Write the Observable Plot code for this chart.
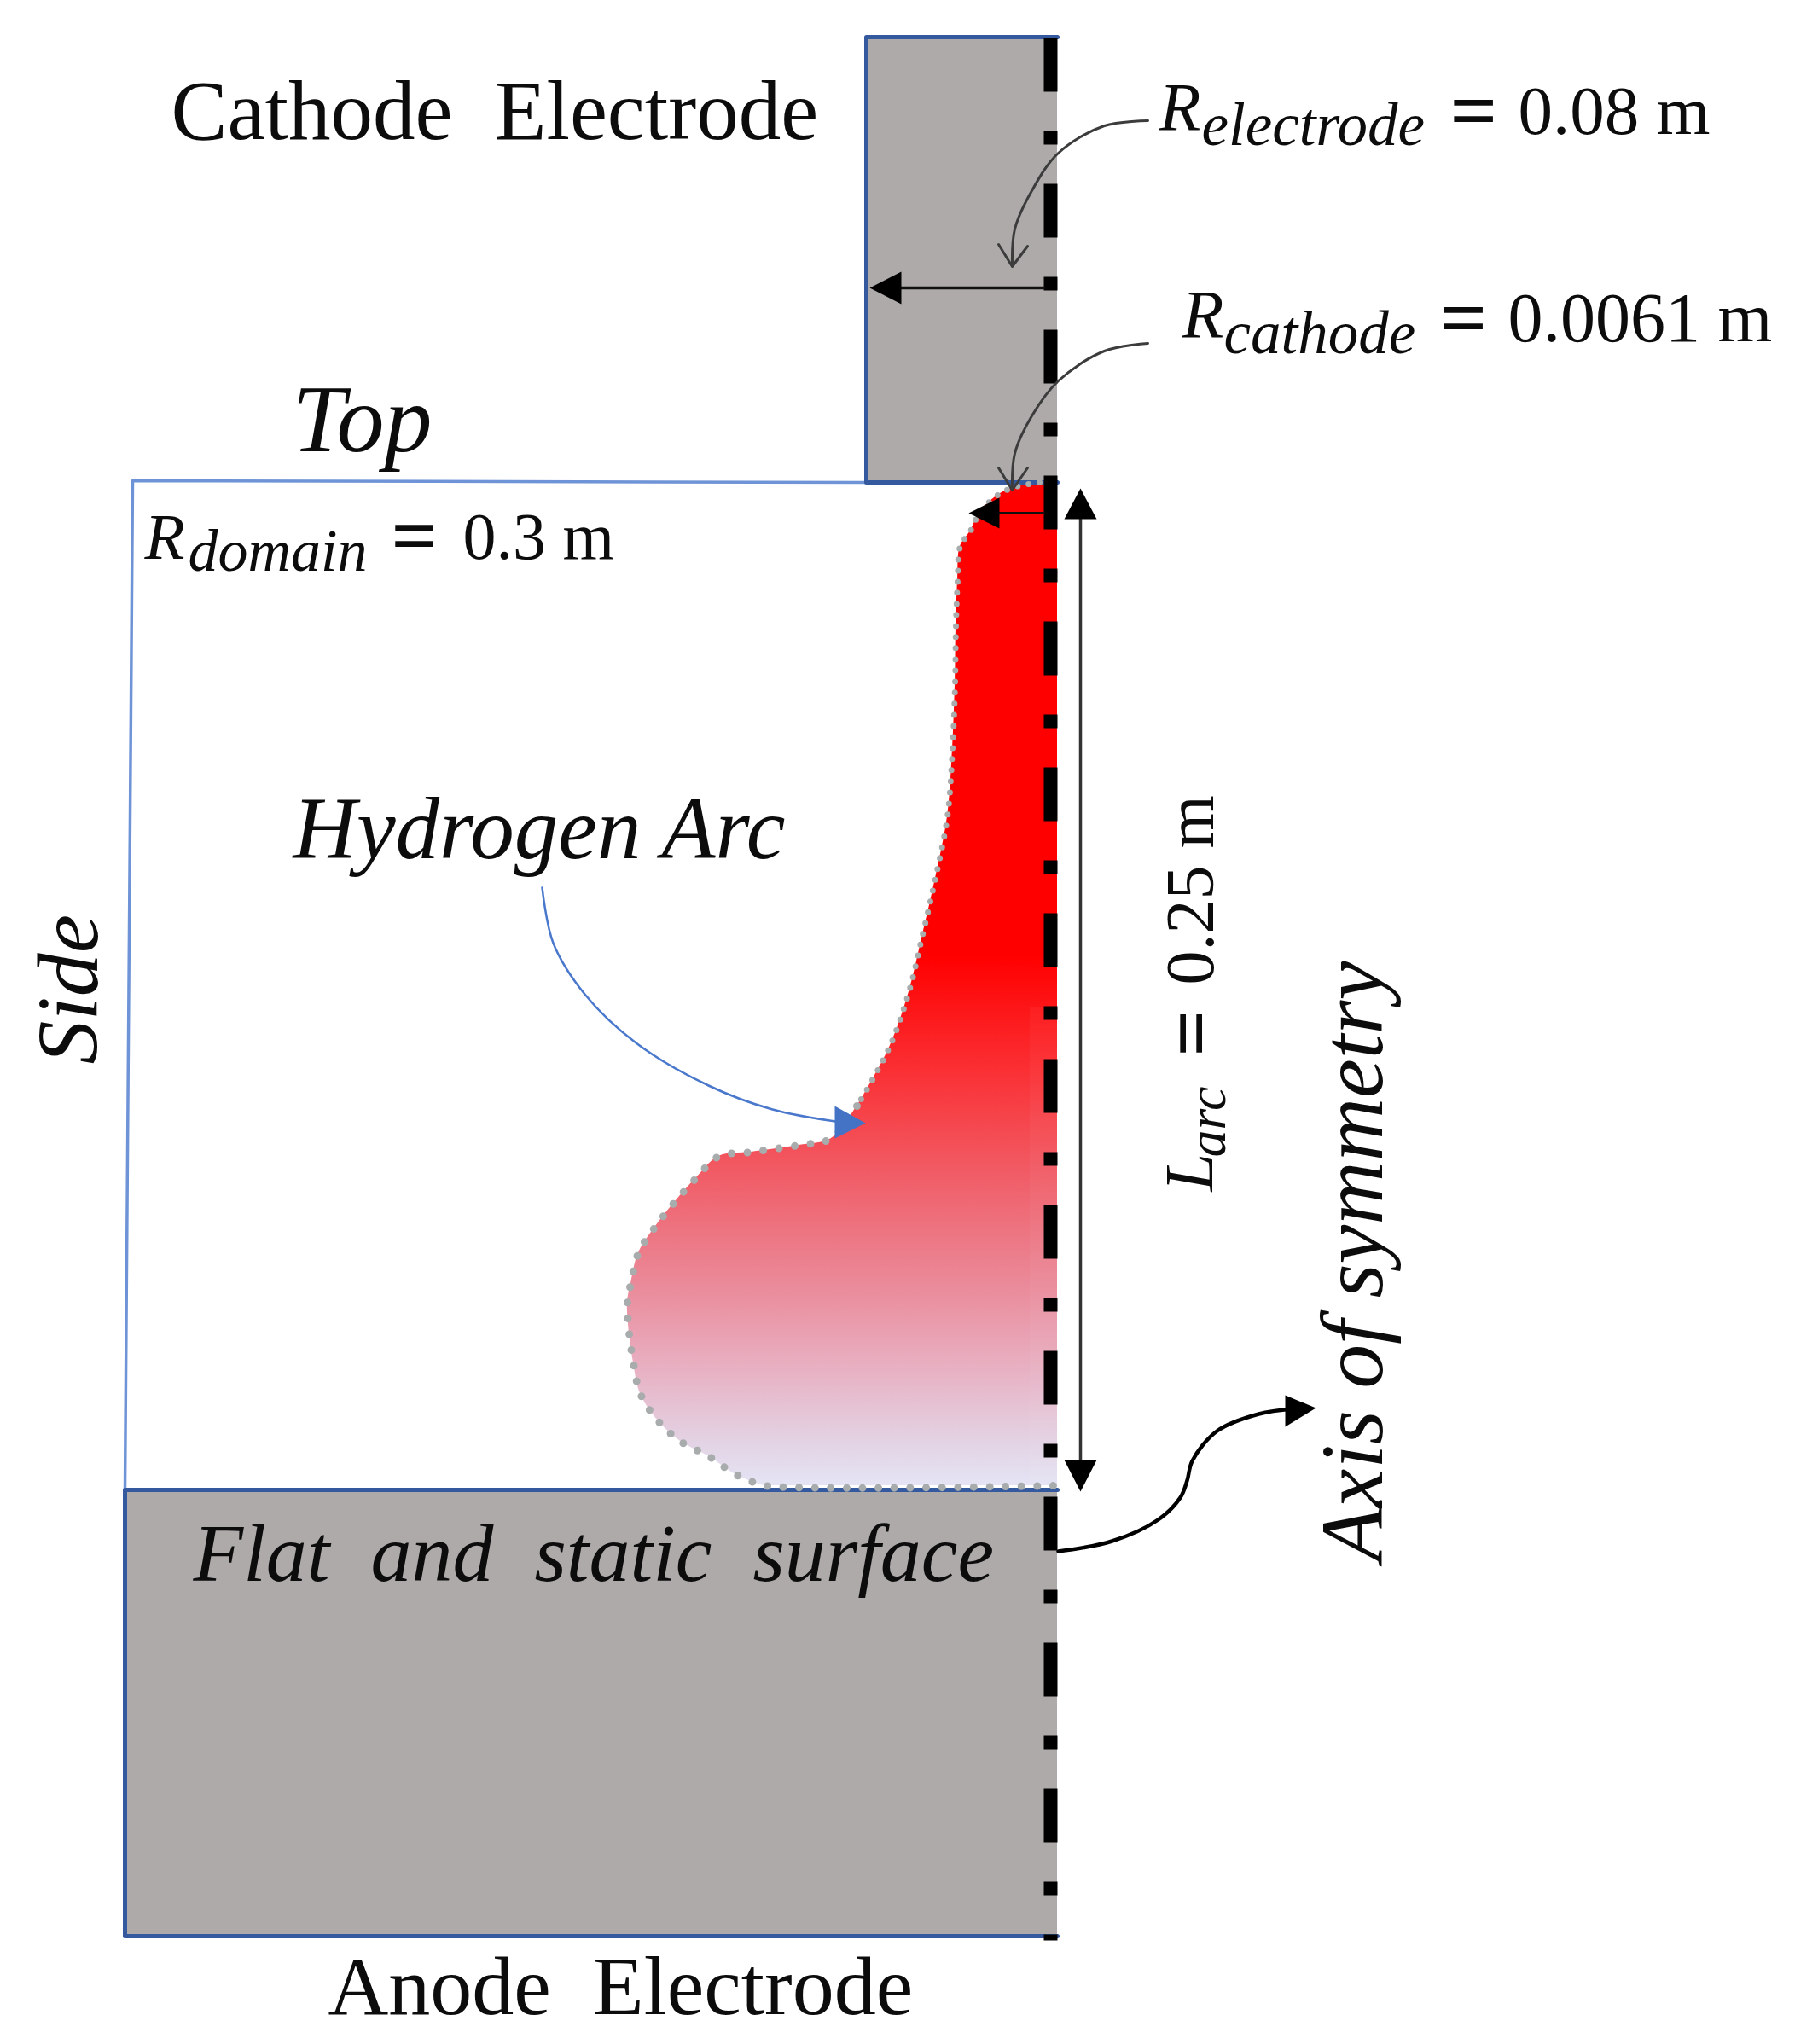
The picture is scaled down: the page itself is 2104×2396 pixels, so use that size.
<!DOCTYPE html>
<html>
<head>
<meta charset="utf-8">
<script src="https://cdn.jsdelivr.net/npm/d3@7"></script>
<script src="https://cdn.jsdelivr.net/npm/@observablehq/plot@0.6"></script>
<style>
html,body{margin:0;padding:0;background:#fff}
svg{display:block}
</style>
</head>
<body>
<div id="chart"></div>
<script>
// Diagram outline (horizontal, vertical position units)
const arcEdgeY = [565,571,580,600,622,640,680,734,801,877,957,1029,1095,1162,1225,1276,1296,1334,1342,1350,1355,1381,1408,1437,1468,1504,1526,1562,1597,1633,1664,1689,1707,1727,1736,1741];
const arcEdgeX = [1218,1187,1169,1148,1137,1125,1122,1120,1119,1116,1110,1096,1081,1065,1043,1016,1004,974,936,880,842,815,791,768,748,739,735,737,742,750,770,797,831,860,880,895];
const arcRightX = 1239;

const gradY = [565,1120,1245,1400,1512,1600,1691,1741];
const gradColor = ["#ff0000","#ff0000","#fb2c30","#ef6570","#ea8c9c","#e8afc1","#e3d3e4","#e4e4f5"];

const electrodeFill = "#aeaaa9";
const cathodeX = [1015,1239], cathodeY = [43,565];
const anodeX = [146,1239], anodeY = [1746,2269];
const domainX = [1015,155,146], domainY = [565,563,1746];
const cathodeEdgeX = [1239,1015,1015,1239], cathodeEdgeY = [43,43,565,565];
const anodeEdgeX = [1239,146,146,1239], anodeEdgeY = [1746,1746,2269,2269];
const axisX = [1231,1231], axisY = [44,2274];

const elecLeaderX = [1345,1294,1240,1209,1189,1186], elecLeaderY = [141,147,179,223,268,310];
const elecVeeX = [1170,1186,1204], elecVeeY = [286,312,288];
const cathLeaderX = [1345,1294,1240,1209,1189,1186], cathLeaderY = [402,411,446,487,531,572];
const cathVeeX = [1170,1186,1204], cathVeeY = [548,574,548];

const elecArrowX = [1223,1050], elecArrowY = [337,337];
const elecHeadX = [1019,1056,1056], elecHeadY = [337,318,356];
const cathArrowX = [1223,1165], cathArrowY = [601,601];
const cathHeadX = [1135,1171,1171], cathHeadY = [601,583,619];
const lenArrowX = [1266,1266], lenArrowY = [600,1720];
const lenTopHeadX = [1266,1247,1285], lenTopHeadY = [572,608,608];
const lenBotHeadX = [1266,1247,1285], lenBotHeadY = [1748,1711,1711];

const h2LeaderX = [635,648,685,745,830,905,985], h2LeaderY = [1040,1105,1165,1222,1272,1300,1315];
const h2HeadX = [1014,978,978], h2HeadY = [1316,1296,1334];

const symLeaderX = [1240,1303,1357,1383,1391,1397,1426,1475,1515], symLeaderY = [1818,1806,1781,1755,1735,1712,1677,1657,1651];
const symHeadX = [1542,1506,1506], symHeadY = [1650,1635,1672];

// Text labels
const labelText = ["Cathode\u00A0\u00A0Electrode","Anode\u00A0\u00A0Electrode","0.08 m","0.0061 m","0.3 m"];
const labelX = [200,384,1779,1767,542];
const labelY = [162,2360,156,399,654];
const labelSize = [99,98,81,82,78];

const equalsText = ["=","=","="];
const equalsX = [1699,1687,458];
const equalsY = [161,404,659];
const equalsSize = [98,98,96];

const italicText = ["Top","Hydrogen Arc","Flat\u00A0\u00A0and\u00A0\u00A0static\u00A0\u00A0surface","R","electrode","R","cathode","R","domain"];
const italicX = [342,343,226,1358,1408,1385,1434,169,220];
const italicY = [528,1005,1852,152,169,395,413,654,668];
const italicSize = [112,103,96,80,71,80,71,77,70];

const vertText = ["Side","Axis of symmetry"];
const vertX = [113,1619];
const vertY = [1247,1830];
const vertSize = [102,103];
const vertItalic = ["L","arc"];
const vertItalicX = [1420,1435];
const vertItalicY = [1396,1356];
const vertItalicSize = [80,64];
const vertPlainText = ["0.25 m"];
const vertPlainX = [1421];
const vertPlainY = [1154];
const vertPlainSize = [80];
const vertEqualsText = ["="];
const vertEqualsX = [1427];
const vertEqualsY = [1238];
const vertEqualsSize = [96];

const pts = (xs, ys) => xs.map((x, i) => ({x, y: ys[i]}));
const serif = "Liberation Serif";
const arc = pts(arcEdgeX, arcEdgeY);
const cut = arcEdgeY.indexOf(1296);
const bottomEdge = [...arc.slice(cut), {x: arcRightX, y: 1741}];

const tbl = (t, x, y, s) => t.map((text, i) => ({text, x: x[i], y: y[i], size: s[i]}));
const textMark = (rows, o) => Plot.text(rows, {
  x: "x", y: "y", text: "text", fontSize: "size", fontFamily: serif, fill: "#0c0c0c",
  textAnchor: "start", lineAnchor: "bottom", ...o
});
const headMark = (xs, ys, fill) => Plot.line(pts(xs, ys), {x: "x", y: "y", fill, stroke: "none", curve: "linear"});
const lead = (xs, ys, stroke, strokeWidth, curve = "catmull-rom") =>
  Plot.line(pts(xs, ys), {x: "x", y: "y", stroke, strokeWidth, curve});

const gradientDefs = () => {
  const defs = d3.create("svg:defs");
  const g = defs.append("linearGradient").attr("id", "arcGrad")
    .attr("gradientUnits", "userSpaceOnUse")
    .attr("x1", 0).attr("x2", 0).attr("y1", gradY[0]).attr("y2", gradY[gradY.length - 1]);
  gradY.forEach((y, i) => g.append("stop")
    .attr("offset", (y - gradY[0]) / (gradY[gradY.length - 1] - gradY[0]))
    .attr("stop-color", gradColor[i]));
  return defs.node();
};

const chart = Plot.plot({
  width: 2104, height: 2396, margin: 0,
  x: {domain: [0, 2104], axis: null},
  y: {domain: [0, 2396], axis: null, reverse: true},
  style: {background: "#fff"},
  marks: [
    gradientDefs,
    Plot.rect([{}], {x1: cathodeX[0], x2: cathodeX[1], y1: cathodeY[0], y2: cathodeY[1], fill: electrodeFill}),
    Plot.rect([{}], {x1: anodeX[0], x2: anodeX[1], y1: anodeY[0], y2: anodeY[1], fill: electrodeFill}),
    lead(domainX, domainY, "#6e93d6", 3.5, "linear"),
    Plot.areaX(arc, {y: "y", x1: "x", x2: () => arcRightX, fill: "url(#arcGrad)", curve: "catmull-rom"}),
    Plot.rect([{}], {x1: 1207, x2: arcRightX, y1: 1180, y2: 1741, fill: "#fff", fillOpacity: 0.04}),
    lead(cathodeEdgeX, cathodeEdgeY, "#34599f", 5, "linear"),
    lead(anodeEdgeX, anodeEdgeY, "#34599f", 5, "linear"),
    Plot.line(arc.slice(0, cut + 1), {x: "x", y: "y", stroke: "#a8acac", strokeWidth: 7, strokeLinecap: "round", strokeDasharray: "0,13", curve: "catmull-rom"}),
    Plot.line(bottomEdge, {x: "x", y: "y", stroke: "#a8acac", strokeWidth: 9, strokeLinecap: "round", strokeDasharray: "0,18.6", curve: "catmull-rom"}),
    Plot.line(pts(axisX, axisY), {x: "x", y: "y", stroke: "#000", strokeWidth: 16, strokeLinecap: "butt", strokeDasharray: "63,46,16,46"}),
    lead(elecArrowX, elecArrowY, "#111", 3.5, "linear"),
    headMark(elecHeadX, elecHeadY, "#000"),
    lead(cathArrowX, cathArrowY, "#111", 3, "linear"),
    headMark(cathHeadX, cathHeadY, "#000"),
    lead(lenArrowX, lenArrowY, "#333", 3.5, "linear"),
    headMark(lenTopHeadX, lenTopHeadY, "#000"),
    headMark(lenBotHeadX, lenBotHeadY, "#000"),
    lead(elecLeaderX, elecLeaderY, "#3c3c3c", 3),
    lead(elecVeeX, elecVeeY, "#3c3c3c", 3, "linear"),
    lead(cathLeaderX, cathLeaderY, "#3c3c3c", 3),
    lead(cathVeeX, cathVeeY, "#3c3c3c", 3, "linear"),
    lead(h2LeaderX, h2LeaderY, "#4a78cc", 2.5),
    headMark(h2HeadX, h2HeadY, "#4472c4"),
    lead(symLeaderX, symLeaderY, "#000", 4.5),
    headMark(symHeadX, symHeadY, "#000"),
    textMark(tbl(labelText, labelX, labelY, labelSize), {}),
    textMark(tbl(equalsText, equalsX, equalsY, equalsSize), {fontWeight: "bold"}),
    textMark(tbl(italicText, italicX, italicY, italicSize), {fontStyle: "italic"}),
    textMark(tbl(vertText, vertX, vertY, vertSize), {fontStyle: "italic", rotate: -90}),
    textMark(tbl(vertItalic, vertItalicX, vertItalicY, vertItalicSize), {fontStyle: "italic", rotate: -90}),
    textMark(tbl(vertPlainText, vertPlainX, vertPlainY, vertPlainSize), {rotate: -90}),
    textMark(tbl(vertEqualsText, vertEqualsX, vertEqualsY, vertEqualsSize), {rotate: -90, fontWeight: "bold"})
  ]
});
document.getElementById("chart").appendChild(chart);
</script>
</body>
</html>
